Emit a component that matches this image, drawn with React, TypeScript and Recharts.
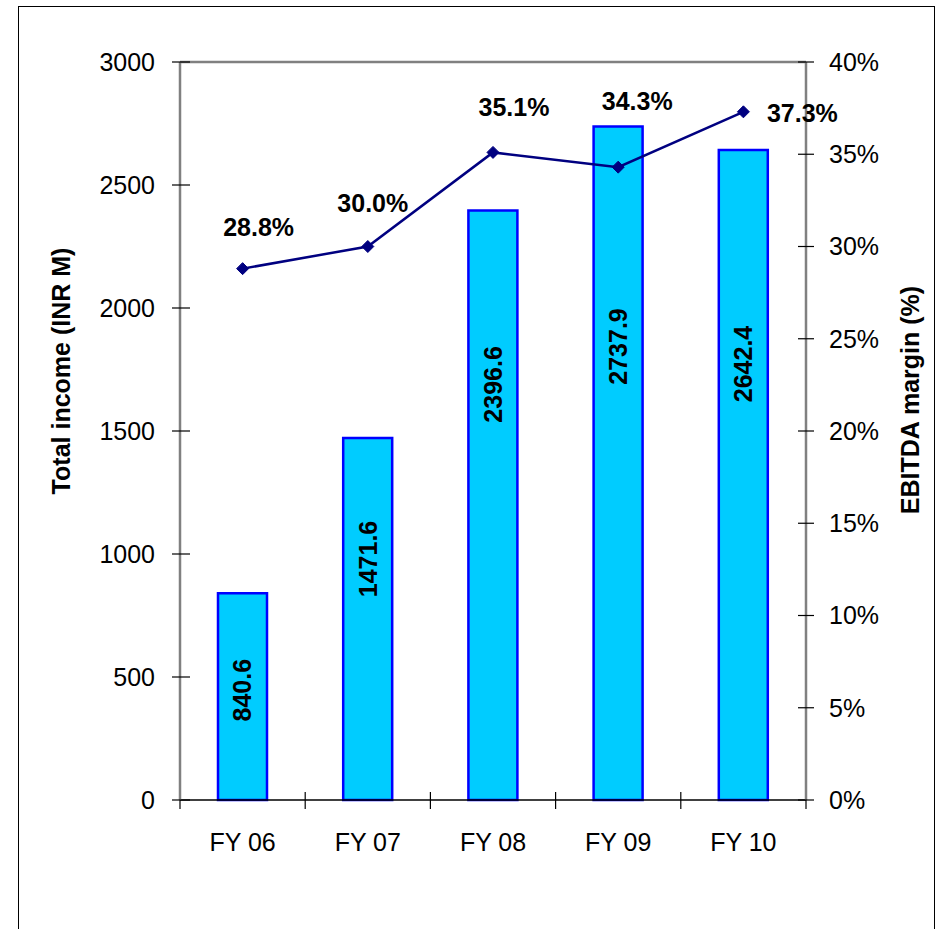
import React from 'react';
import { ComposedChart, Bar, Line, XAxis, YAxis, ReferenceLine, LabelList } from 'recharts';

const years = ['FY 06', 'FY 07', 'FY 08', 'FY 09', 'FY 10'];
const totalIncome = [840.6, 1471.6, 2396.6, 2737.9, 2642.4];
const ebitdaMargin = [28.8, 30.0, 35.1, 34.3, 37.3];
const incomeTicks = [0, 500, 1000, 1500, 2000, 2500, 3000];
const marginTicks = [0, 5, 10, 15, 20, 25, 30, 35, 40];

const data = years.map((year, i) => ({ year, income: totalIncome[i], margin: ebitdaMargin[i] }));

// label placement tweaks, as they were nudged by hand in the original
const barLabelDrop = [97, 121, 174, 220, 214];
const lineLabelShift = [
  [16, -42],
  [5, -43],
  [21, -45],
  [19, -66],
  [59, 1],
];

const FONT = '"Liberation Sans", Arial, sans-serif';
const FS = 25;

const LeftTick = (props: any) => {
  const { x, y, payload } = props;
  return (
    <g>
      <line x1={x - 8} x2={x + 10} y1={y} y2={y} stroke="#000" strokeWidth={1.2} />
      <text x={x - 25} y={y} dy="0.355em" textAnchor="end" fontSize={FS} fontFamily={FONT} fill="#000">
        {payload.value}
      </text>
    </g>
  );
};

const RightTick = (props: any) => {
  const { x, y, payload } = props;
  return (
    <g>
      <line x1={x - 8} x2={x + 8} y1={y} y2={y} stroke="#000" strokeWidth={1.2} />
      <text x={x + 23} y={y} dy="0.355em" textAnchor="start" fontSize={FS} fontFamily={FONT} fill="#000">
        {`${payload.value}%`}
      </text>
    </g>
  );
};

const CategoryTick = (props: any) => {
  const { x, y, payload, index, width, visibleTicksCount } = props;
  const band = width / visibleTicksCount;
  const left = x - band / 2;
  const last = index === visibleTicksCount - 1;
  return (
    <g>
      <line x1={left} x2={left} y1={index === 0 ? y : y - 8} y2={y + 9} stroke="#000" strokeWidth={1.2} />
      {last && <line x1={x + band / 2} x2={x + band / 2} y1={y} y2={y + 9} stroke="#000" strokeWidth={1.2} />}
      <text x={x} y={y + 42} dy="0.355em" textAnchor="middle" fontSize={FS} fontFamily={FONT} fill="#000">
        {payload.value}
      </text>
    </g>
  );
};

const Diamond = (props: any) => {
  const { cx, cy, index } = props;
  const r = 6;
  return (
    <path
      key={`d-${index}`}
      d={`M${cx},${cy - r} L${cx + r},${cy} L${cx},${cy + r} L${cx - r},${cy} Z`}
      fill="#000080"
      stroke="#000080"
    />
  );
};

const BarValueLabel = (props: any) => {
  const { x, y, width, value, index } = props;
  const cx = x + width / 2;
  const cy = y + barLabelDrop[index];
  return (
    <text
      x={cx}
      y={cy}
      dy="0.355em"
      textAnchor="middle"
      transform={`rotate(-90, ${cx}, ${cy})`}
      fontSize={FS}
      fontWeight="bold"
      fontFamily={FONT}
      fill="#000"
    >
      {value.toFixed(1)}
    </text>
  );
};

const MarginLabel = (props: any) => {
  const { x, y, value, index } = props;
  const [dx, dy] = lineLabelShift[index];
  return (
    <text
      x={x + dx}
      y={y + dy}
      dy="0.355em"
      textAnchor="middle"
      fontSize={FS}
      fontWeight="bold"
      fontFamily={FONT}
      fill="#000"
    >
      {`${value.toFixed(1)}%`}
    </text>
  );
};

export default function App() {
  return (
    <div style={{ position: 'absolute', left: 0, top: 0, width: 941, height: 929, background: '#fff', overflow: 'hidden' }}>
      <div
        style={{
          position: 'absolute',
          left: 18,
          top: 6,
          width: 917,
          height: 1000,
          border: '1px solid #000',
          boxSizing: 'border-box',
        }}
      />
      <div style={{ position: 'absolute', left: 0, top: 0 }}>
        <ComposedChart width={941} height={929} data={data} margin={{ top: 62, right: 0, bottom: 69, left: 0 }}>
          <XAxis
            dataKey="year"
            height={60}
            tickSize={0}
            tickMargin={0}
            axisLine={{ stroke: '#000', strokeWidth: 1.5 }}
            tickLine={false}
            tick={<CategoryTick />}
            interval={0}
          />
          <YAxis
            yAxisId="left"
            orientation="left"
            width={180}
            domain={[0, 3000]}
            ticks={incomeTicks}
            tickSize={0}
            tickMargin={0}
            tickLine={false}
            axisLine={{ stroke: '#808080', strokeWidth: 2.5 }}
            tick={<LeftTick />}
            label={{
              content: () => (
                <text
                  x={61}
                  y={371}
                  transform="rotate(-90, 61, 371)"
                  dy="0.355em"
                  textAnchor="middle"
                  fontSize={FS}
                  fontWeight="bold"
                  fontFamily={FONT}
                  fill="#000"
                >
                  Total income (INR M)
                </text>
              ),
            }}
          />
          <YAxis
            yAxisId="right"
            orientation="right"
            width={135}
            domain={[0, 40]}
            ticks={marginTicks}
            tickSize={0}
            tickMargin={0}
            tickLine={false}
            axisLine={{ stroke: '#808080', strokeWidth: 2.5 }}
            tick={<RightTick />}
            label={{
              content: () => (
                <text
                  x={910}
                  y={400}
                  transform="rotate(-90, 910, 400)"
                  dy="0.355em"
                  textAnchor="middle"
                  fontSize={FS}
                  fontWeight="bold"
                  fontFamily={FONT}
                  fill="#000"
                >
                  EBITDA margin (%)
                </text>
              ),
            }}
          />
          <ReferenceLine yAxisId="left" y={3000} stroke="#808080" strokeWidth={2.5} />
          <Bar yAxisId="left" dataKey="income" fill="#00CCFF" stroke="#0000FF" strokeWidth={2.5} barSize={49} isAnimationActive={false}>
            <LabelList dataKey="income" content={<BarValueLabel />} />
          </Bar>
          <Line
            yAxisId="right"
            dataKey="margin"
            type="linear"
            stroke="#000080"
            strokeWidth={2.5}
            dot={Diamond}
            activeDot={false}
            isAnimationActive={false}
          >
            <LabelList dataKey="margin" content={<MarginLabel />} />
          </Line>
        </ComposedChart>
      </div>
    </div>
  );
}
